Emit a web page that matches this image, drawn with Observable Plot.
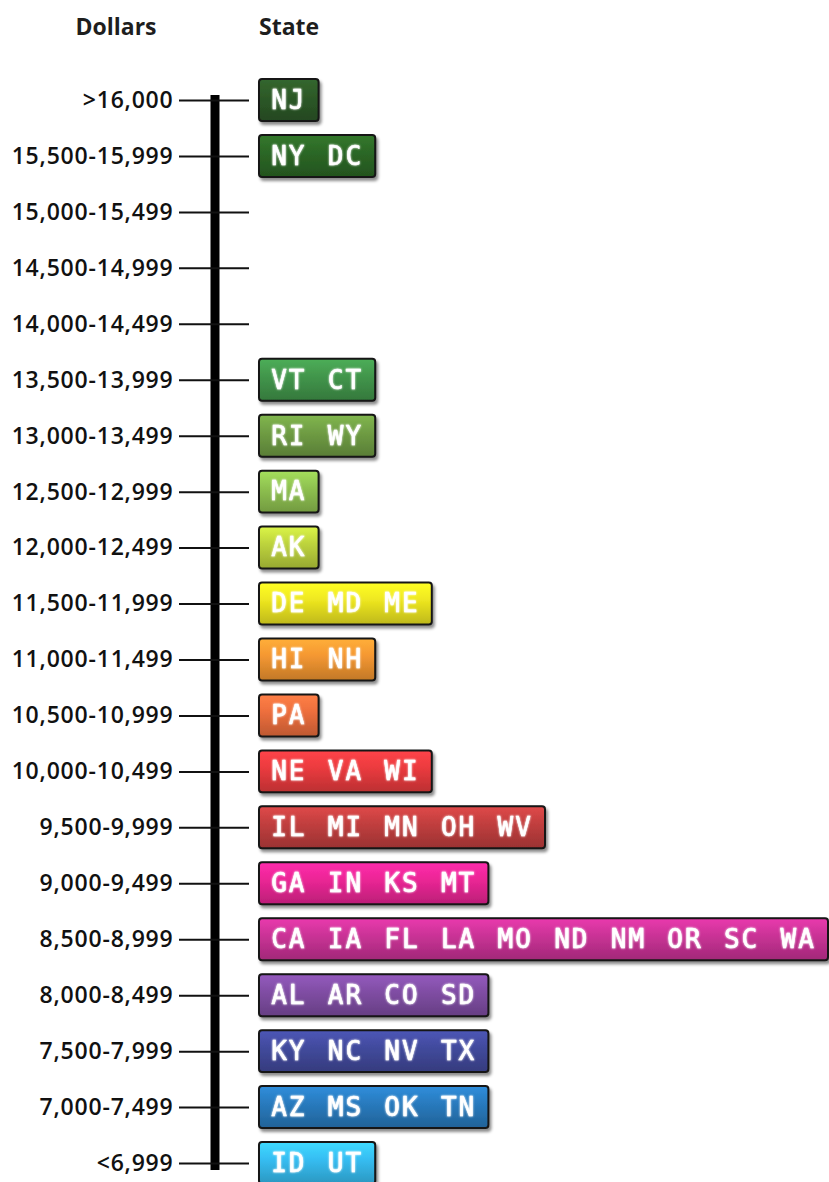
<!DOCTYPE html>
<html><head><meta charset="utf-8">
<script src="https://cdn.jsdelivr.net/npm/d3@7"></script>
<script src="https://cdn.jsdelivr.net/npm/@observablehq/plot@0.6"></script>
<style>
html,body{margin:0;padding:0;background:#fff;}
#wrap{position:relative;width:829px;height:1182px;overflow:hidden;}
.hdr{position:absolute;top:8px;font-family:"Open Sans";font-weight:700;font-size:23px;color:#1e1e1e;line-height:36px;}
#h1{left:56px;width:120px;text-align:center;}
#h2{left:259px;}
#chart{position:absolute;left:0;top:0;}
svg [aria-label="y-axis tick label"] text{letter-spacing:0.8px;}
svg g[aria-label="text"] text{letter-spacing:2px;}
</style></head><body>
<div id="wrap"><div id="chart"></div><div class="hdr" id="h1">Dollars</div><div class="hdr" id="h2">State</div></div>
<script>
// Spending ranges (dollars), top to bottom
const ranges = [">16,000", "15,500-15,999", "15,000-15,499", "14,500-14,999", "14,000-14,499",
  "13,500-13,999", "13,000-13,499", "12,500-12,999", "12,000-12,499", "11,500-11,999",
  "11,000-11,499", "10,500-10,999", "10,000-10,499", "9,500-9,999", "9,000-9,499",
  "8,500-8,999", "8,000-8,499", "7,500-7,999", "7,000-7,499", "<6,999"];

// States in each range
const statesByRange = [
  ["NJ"], ["NY", "DC"], [], [], [],
  ["VT", "CT"], ["RI", "WY"], ["MA"], ["AK"], ["DE", "MD", "ME"],
  ["HI", "NH"], ["PA"], ["NE", "VA", "WI"], ["IL", "MI", "MN", "OH", "WV"], ["GA", "IN", "KS", "MT"],
  ["CA", "IA", "FL", "LA", "MO", "ND", "NM", "OR", "SC", "WA"], ["AL", "AR", "CO", "SD"], ["KY", "NC", "NV", "TX"], ["AZ", "MS", "OK", "TN"], ["ID", "UT"]
];

// Box colour for each range
const boxColors = ["#2b5526", "#2a6324", "#3f8f48", "#3f8f48", "#3f8f48",
  "#3f8f48", "#6a9640", "#88b84c", "#b4c93a", "#e3dc1e",
  "#e8902f", "#e2693a", "#e0383c", "#b83c3c", "#e0248e",
  "#c0308f", "#7a4a9c", "#3f4796", "#2775b5", "#33b4e6"];

const rows = ranges.map((label, i) => ({label, i, n: statesByRange[i].length, color: boxColors[i]}));
const filled = rows.filter(d => d.n > 0);
const states = rows.flatMap(r => statesByRange[r.i].map((s, j) => ({label: r.label, state: s, slot: j})));

const plot = Plot.plot({
  width: 829, height: 1182,
  marginLeft: 259, marginRight: 4, marginTop: 0, marginBottom: 0,
  x: {domain: [0, 10], axis: null},
  y: {type: "band", domain: ranges, range: [72, 1191], paddingInner: 0.25, paddingOuter: 0.125, align: 0.5, round: false},
  color: {type: "identity"},
  style: {fontFamily: "Open Sans", background: "transparent", overflow: "visible"},
  marks: [
    Plot.ruleX([rows[0]], {x: 0, y1: () => ranges[0], y2: () => ranges[ranges.length - 1], dx: -44.5,
      stroke: "black", strokeWidth: 9, insetTop: 16, insetBottom: 14}),
    Plot.axisY({anchor: "left", tickSize: 70, tickPadding: 6, dx: -10, fontSize: 23, fontWeight: 600,
      color: "#111", strokeWidth: 2, label: null}),
    Plot.barX(filled, {x1: 0, x2: "n", y: "label", fill: "color", stroke: "#161616", strokeWidth: 2,
      rx: 3, insetRight: -3}),
    Plot.text(states, {x: d => d.slot + 0.5, y: "label", text: "state", fill: "white", dx: 1,
      fontFamily: "DejaVu Sans Mono", fontSize: 26, fontWeight: "normal", stroke: "white", strokeWidth: 0.6})
  ]
});

const svg = d3.select(plot);
const defs = svg.insert("defs", ":first-child");
filled.forEach(r => {
  const c = d3.color(r.color);
  const g = defs.append("linearGradient").attr("id", "g" + r.i)
    .attr("x1", 0).attr("y1", 0).attr("x2", 0).attr("y2", 1);
  g.append("stop").attr("offset", "0%").attr("stop-color", c.brighter(0.55).formatHex());
  g.append("stop").attr("offset", "40%").attr("stop-color", c.brighter(0.15).formatHex());
  g.append("stop").attr("offset", "100%").attr("stop-color", c.darker(0.5).formatHex());
});
const f = defs.append("filter").attr("id", "shadow")
  .attr("x", "-10%").attr("y", "-20%").attr("width", "130%").attr("height", "170%");
f.append("feDropShadow").attr("dx", 2).attr("dy", 3).attr("stdDeviation", 1.8)
  .attr("flood-color", "#000").attr("flood-opacity", 0.45);
const tg = defs.append("filter").attr("id", "glow").attr("x", "-20%").attr("y", "-30%").attr("width", "140%").attr("height", "160%");
tg.append("feGaussianBlur").attr("in", "SourceGraphic").attr("stdDeviation", 0.8).attr("result", "b");
const m = tg.append("feMerge");
m.append("feMergeNode").attr("in", "b");
m.append("feMergeNode").attr("in", "SourceGraphic");

svg.selectAll('g[aria-label="bar"] rect').each(function(idx) {
  d3.select(this).attr("fill", `url(#g${filled[idx].i})`);
});
svg.select('g[aria-label="bar"]').attr("filter", "url(#shadow)");
svg.select('g[aria-label="text"]').attr("filter", "url(#glow)");

document.getElementById("chart").appendChild(plot);
</script>
</body></html>
